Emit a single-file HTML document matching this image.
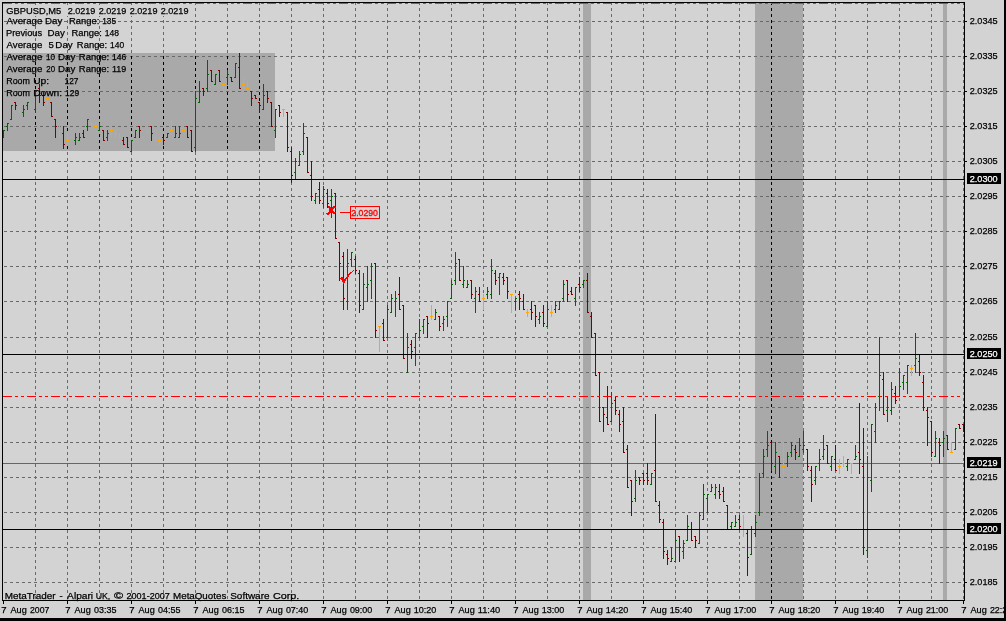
<!DOCTYPE html>
<html><head><meta charset="utf-8"><title>GBPUSD,M5</title>
<style>html,body{margin:0;padding:0;background:#d3d3d3;overflow:hidden}svg{display:block;will-change:transform}text{font-family:"Liberation Sans",sans-serif;font-size:9.5px;fill:#000;stroke:#000;stroke-width:0.25px;white-space:pre}.w{fill:#fff;stroke:#fff}.r{fill:#f00;stroke:#f00;stroke-width:0.3px}</style></head><body>
<svg width="1006" height="621" viewBox="0 0 1006 621" shape-rendering="crispEdges">
<rect x="0" y="0" width="1006" height="621" fill="#d3d3d3"/>
<rect x="0" y="618" width="1006" height="3" fill="#000"/>
<rect x="1004" y="0" width="2" height="621" fill="#000"/>
<rect x="3" y="53" width="272" height="98" fill="#a9a9a9"/>
<rect x="583" y="3" width="8" height="597" fill="#a9a9a9"/>
<rect x="755" y="3" width="48" height="597" fill="#a9a9a9"/>
<rect x="943" y="3" width="4" height="597" fill="#a9a9a9"/>
<path d="M4 21.5H964M4 56.5H964M4 91.5H964M4 126.5H964M4 161.5H964M4 196.5H964M4 231.5H964M4 266.5H964M4 301.5H964M4 337.5H964M4 372.5H964M4 407.5H964M4 442.5H964M4 477.5H964M4 512.5H964M4 547.5H964M4 582.5H964" stroke="#696969" stroke-width="1" stroke-dasharray="3 3" fill="none"/>
<path d="M35.5 2V600M67.5 2V600M99.5 2V600M131.5 2V600M163.5 2V600M195.5 2V600M227.5 2V600M259.5 2V600M291.5 2V600M323.5 2V600M355.5 2V600M387.5 2V600M419.5 2V600M451.5 2V600M483.5 2V600M515.5 2V600M547.5 2V600M579.5 2V600M611.5 2V600M643.5 2V600M675.5 2V600M707.5 2V600M739.5 2V600M771.5 2V600M803.5 2V600M835.5 2V600M867.5 2V600M899.5 2V600M931.5 2V600M963.5 2V600" stroke="#696969" stroke-width="1" stroke-dasharray="3 3" fill="none"/>
<path d="M35.5 53V151" stroke="#000" stroke-width="1" stroke-dasharray="3 3" stroke-dashoffset="3" fill="none"/>
<path d="M67.5 53V151" stroke="#000" stroke-width="1" stroke-dasharray="3 3" stroke-dashoffset="3" fill="none"/>
<path d="M99.5 53V151" stroke="#000" stroke-width="1" stroke-dasharray="3 3" stroke-dashoffset="3" fill="none"/>
<path d="M131.5 53V151" stroke="#000" stroke-width="1" stroke-dasharray="3 3" stroke-dashoffset="3" fill="none"/>
<path d="M163.5 53V151" stroke="#000" stroke-width="1" stroke-dasharray="3 3" stroke-dashoffset="3" fill="none"/>
<path d="M195.5 53V151" stroke="#000" stroke-width="1" stroke-dasharray="3 3" stroke-dashoffset="3" fill="none"/>
<path d="M227.5 53V151" stroke="#000" stroke-width="1" stroke-dasharray="3 3" stroke-dashoffset="3" fill="none"/>
<path d="M259.5 53V151" stroke="#000" stroke-width="1" stroke-dasharray="3 3" stroke-dashoffset="3" fill="none"/>
<path d="M771.5 3V600" stroke="#000" stroke-width="1" stroke-dasharray="3 3" stroke-dashoffset="1" fill="none"/>
<rect x="3" y="463" width="961" height="1" fill="#666"/>
<path d="M3 130h1v8h-1zM2 137h1v1h-1zM4 130h1v1h-1zM7 123h1v8h-1zM6 126h1v1h-1zM8 123h1v1h-1zM11 105h1v15h-1zM10 119h1v1h-1zM12 105h1v1h-1zM23 105h1v12h-1zM22 112h1v1h-1zM24 109h1v1h-1zM27 102h1v8h-1zM26 105h1v1h-1zM28 102h1v1h-1zM35 91h1v22h-1zM34 109h1v1h-1zM36 91h1v1h-1zM75 133h1v12h-1zM74 140h1v1h-1zM76 137h1v1h-1zM79 133h1v8h-1zM78 140h1v1h-1zM80 137h1v1h-1zM87 119h1v12h-1zM86 126h1v1h-1zM88 119h1v1h-1zM99 123h1v8h-1zM98 130h1v1h-1zM100 126h1v1h-1zM107 130h1v11h-1zM106 137h1v1h-1zM108 133h1v1h-1zM131 140h1v12h-1zM130 151h1v1h-1zM132 140h1v1h-1zM135 130h1v8h-1zM134 137h1v1h-1zM136 130h1v1h-1zM167 133h1v5h-1zM166 137h1v1h-1zM168 133h1v1h-1zM175 126h1v12h-1zM174 137h1v1h-1zM176 133h1v1h-1zM179 126h1v12h-1zM178 137h1v1h-1zM180 133h1v1h-1zM195 91h1v61h-1zM194 147h1v1h-1zM196 98h1v1h-1zM199 81h1v22h-1zM198 102h1v1h-1zM200 91h1v1h-1zM207 60h1v32h-1zM206 88h1v1h-1zM208 74h1v1h-1zM215 74h1v11h-1zM214 84h1v1h-1zM216 74h1v1h-1zM227 70h1v15h-1zM226 77h1v1h-1zM228 74h1v1h-1zM235 63h1v15h-1zM234 77h1v1h-1zM236 63h1v1h-1zM263 84h1v26h-1zM262 109h1v1h-1zM264 95h1v1h-1zM275 109h1v29h-1zM274 130h1v1h-1zM276 109h1v1h-1zM295 158h1v22h-1zM294 172h1v1h-1zM296 161h1v1h-1zM299 151h1v15h-1zM298 165h1v1h-1zM300 154h1v1h-1zM303 123h1v32h-1zM302 151h1v1h-1zM304 133h1v1h-1zM315 193h1v11h-1zM314 200h1v1h-1zM316 193h1v1h-1zM323 186h1v22h-1zM322 203h1v1h-1zM324 189h1v1h-1zM331 189h1v29h-1zM330 200h1v1h-1zM332 196h1v1h-1zM347 249h1v61h-1zM346 301h1v1h-1zM348 263h1v1h-1zM351 252h1v15h-1zM350 259h1v1h-1zM352 252h1v1h-1zM363 273h1v37h-1zM362 309h1v1h-1zM364 284h1v1h-1zM367 266h1v36h-1zM366 287h1v1h-1zM368 284h1v1h-1zM371 263h1v36h-1zM370 280h1v1h-1zM372 266h1v1h-1zM387 305h1v33h-1zM386 337h1v1h-1zM388 309h1v1h-1zM391 294h1v19h-1zM390 312h1v1h-1zM392 298h1v1h-1zM395 291h1v26h-1zM394 301h1v1h-1zM396 298h1v1h-1zM407 333h1v40h-1zM406 372h1v1h-1zM408 347h1v1h-1zM415 333h1v33h-1zM414 347h1v1h-1zM416 333h1v1h-1zM419 319h1v19h-1zM418 337h1v1h-1zM420 330h1v1h-1zM423 319h1v15h-1zM422 326h1v1h-1zM424 319h1v1h-1zM435 309h1v11h-1zM434 319h1v1h-1zM436 312h1v1h-1zM443 316h1v15h-1zM442 323h1v1h-1zM444 319h1v1h-1zM447 301h1v26h-1zM446 316h1v1h-1zM448 301h1v1h-1zM451 280h1v19h-1zM450 298h1v1h-1zM452 284h1v1h-1zM455 252h1v33h-1zM454 280h1v1h-1zM456 263h1v1h-1zM463 266h1v22h-1zM462 284h1v1h-1zM464 280h1v1h-1zM467 280h1v8h-1zM466 287h1v1h-1zM468 284h1v1h-1zM475 287h1v26h-1zM474 298h1v1h-1zM476 291h1v1h-1zM487 287h1v12h-1zM486 294h1v1h-1zM488 291h1v1h-1zM491 259h1v40h-1zM490 294h1v1h-1zM492 270h1v1h-1zM499 273h1v22h-1zM498 277h1v1h-1zM500 273h1v1h-1zM515 298h1v12h-1zM514 301h1v1h-1zM516 298h1v1h-1zM539 312h1v12h-1zM538 319h1v1h-1zM540 316h1v1h-1zM547 301h1v26h-1zM546 326h1v1h-1zM548 309h1v1h-1zM555 301h1v12h-1zM554 309h1v1h-1zM556 305h1v1h-1zM559 301h1v9h-1zM558 309h1v1h-1zM560 301h1v1h-1zM563 280h1v22h-1zM562 298h1v1h-1zM564 284h1v1h-1zM575 287h1v19h-1zM574 298h1v1h-1zM576 287h1v1h-1zM583 280h1v8h-1zM582 284h1v1h-1zM584 280h1v1h-1zM611 392h1v30h-1zM610 421h1v1h-1zM612 403h1v1h-1zM635 470h1v32h-1zM634 498h1v1h-1zM636 480h1v1h-1zM651 473h1v12h-1zM650 484h1v1h-1zM652 473h1v1h-1zM671 547h1v15h-1zM670 561h1v1h-1zM672 558h1v1h-1zM675 530h1v32h-1zM674 561h1v1h-1zM676 540h1v1h-1zM683 540h1v19h-1zM682 551h1v1h-1zM684 543h1v1h-1zM687 515h1v26h-1zM686 540h1v1h-1zM688 526h1v1h-1zM699 512h1v32h-1zM698 543h1v1h-1zM700 515h1v1h-1zM703 484h1v36h-1zM702 519h1v1h-1zM704 494h1v1h-1zM707 494h1v19h-1zM706 498h1v1h-1zM708 494h1v1h-1zM711 484h1v8h-1zM710 491h1v1h-1zM712 487h1v1h-1zM715 484h1v15h-1zM714 494h1v1h-1zM716 487h1v1h-1zM731 522h1v8h-1zM730 526h1v1h-1zM732 522h1v1h-1zM735 515h1v12h-1zM734 526h1v1h-1zM736 522h1v1h-1zM751 526h1v29h-1zM750 554h1v1h-1zM752 529h1v1h-1zM755 515h1v22h-1zM754 533h1v1h-1zM756 522h1v1h-1zM759 473h1v43h-1zM758 512h1v1h-1zM760 477h1v1h-1zM763 449h1v29h-1zM762 473h1v1h-1zM764 456h1v1h-1zM767 431h1v26h-1zM766 449h1v1h-1zM768 445h1v1h-1zM775 442h1v32h-1zM774 466h1v1h-1zM776 452h1v1h-1zM787 452h1v15h-1zM786 463h1v1h-1zM788 456h1v1h-1zM791 442h1v15h-1zM790 452h1v1h-1zM792 445h1v1h-1zM799 438h1v19h-1zM798 456h1v1h-1zM800 445h1v1h-1zM803 431h1v22h-1zM802 449h1v1h-1zM804 445h1v1h-1zM815 466h1v19h-1zM814 480h1v1h-1zM816 466h1v1h-1zM819 449h1v22h-1zM818 463h1v1h-1zM820 459h1v1h-1zM823 435h1v25h-1zM822 456h1v1h-1zM824 449h1v1h-1zM831 456h1v15h-1zM830 466h1v1h-1zM832 456h1v1h-1zM847 459h1v12h-1zM846 466h1v1h-1zM848 459h1v1h-1zM855 445h1v15h-1zM854 459h1v1h-1zM856 456h1v1h-1zM867 456h1v102h-1zM866 550h1v1h-1zM868 477h1v1h-1zM871 424h1v68h-1zM870 480h1v1h-1zM872 424h1v1h-1zM875 403h1v40h-1zM874 431h1v1h-1zM876 407h1v1h-1zM879 337h1v74h-1zM878 396h1v1h-1zM880 375h1v1h-1zM887 396h1v26h-1zM886 410h1v1h-1zM888 407h1v1h-1zM891 382h1v33h-1zM890 410h1v1h-1zM892 389h1v1h-1zM899 368h1v29h-1zM898 396h1v1h-1zM900 386h1v1h-1zM903 375h1v15h-1zM902 382h1v1h-1zM904 375h1v1h-1zM907 365h1v29h-1zM906 382h1v1h-1zM908 365h1v1h-1zM915 333h1v40h-1zM914 365h1v1h-1zM916 358h1v1h-1zM935 431h1v26h-1zM934 456h1v1h-1zM936 438h1v1h-1zM943 431h1v26h-1zM942 442h1v1h-1zM944 438h1v1h-1zM955 428h1v22h-1zM954 449h1v1h-1zM956 428h1v1h-1z" fill="#006400"/>
<path d="M15 102h1v8h-1zM14 102h1v1h-1zM16 105h1v1h-1zM39 84h1v19h-1zM38 88h1v1h-1zM40 95h1v1h-1zM43 92h1v14h-1zM42 95h1v1h-1zM44 102h1v1h-1zM51 102h1v15h-1zM50 102h1v1h-1zM52 116h1v1h-1zM55 119h1v19h-1zM54 119h1v1h-1zM56 126h1v1h-1zM63 126h1v23h-1zM62 133h1v1h-1zM64 144h1v1h-1zM83 130h1v8h-1zM82 133h1v1h-1zM84 137h1v1h-1zM103 130h1v11h-1zM102 130h1v1h-1zM104 140h1v1h-1zM123 137h1v8h-1zM122 140h1v1h-1zM124 144h1v1h-1zM127 137h1v11h-1zM126 137h1v1h-1zM128 147h1v1h-1zM139 126h1v12h-1zM138 126h1v1h-1zM140 130h1v1h-1zM151 126h1v15h-1zM150 126h1v1h-1zM152 133h1v1h-1zM163 137h1v8h-1zM162 137h1v1h-1zM164 140h1v1h-1zM187 126h1v12h-1zM186 126h1v1h-1zM188 137h1v1h-1zM191 130h1v22h-1zM190 130h1v1h-1zM192 151h1v1h-1zM203 88h1v8h-1zM202 88h1v1h-1zM204 91h1v1h-1zM211 70h1v12h-1zM210 70h1v1h-1zM212 81h1v1h-1zM219 70h1v12h-1zM218 70h1v1h-1zM220 81h1v1h-1zM231 77h1v5h-1zM230 77h1v1h-1zM232 81h1v1h-1zM239 53h1v36h-1zM238 67h1v1h-1zM240 88h1v1h-1zM251 91h1v15h-1zM250 91h1v1h-1zM252 98h1v1h-1zM255 95h1v4h-1zM254 95h1v1h-1zM256 98h1v1h-1zM259 102h1v11h-1zM258 102h1v1h-1zM260 105h1v1h-1zM267 91h1v12h-1zM266 91h1v1h-1zM268 98h1v1h-1zM271 102h1v25h-1zM270 102h1v1h-1zM272 126h1v1h-1zM279 105h1v12h-1zM278 105h1v1h-1zM280 112h1v1h-1zM287 112h1v40h-1zM286 112h1v1h-1zM288 147h1v1h-1zM291 147h1v36h-1zM290 151h1v1h-1zM292 175h1v1h-1zM307 137h1v36h-1zM306 137h1v1h-1zM308 172h1v1h-1zM311 161h1v40h-1zM310 175h1v1h-1zM312 196h1v1h-1zM319 182h1v22h-1zM318 189h1v1h-1zM320 200h1v1h-1zM327 189h1v19h-1zM326 193h1v1h-1zM328 203h1v1h-1zM335 193h1v46h-1zM334 193h1v1h-1zM336 238h1v1h-1zM339 242h1v39h-1zM338 242h1v1h-1zM340 263h1v1h-1zM343 252h1v58h-1zM342 256h1v1h-1zM344 298h1v1h-1zM355 256h1v18h-1zM354 259h1v1h-1zM356 270h1v1h-1zM359 270h1v43h-1zM358 273h1v1h-1zM360 305h1v1h-1zM375 263h1v75h-1zM374 263h1v1h-1zM376 330h1v1h-1zM383 319h1v22h-1zM382 323h1v1h-1zM384 340h1v1h-1zM399 277h1v33h-1zM398 294h1v1h-1zM400 309h1v1h-1zM403 305h1v54h-1zM402 305h1v1h-1zM404 358h1v1h-1zM411 340h1v19h-1zM410 344h1v1h-1zM412 351h1v1h-1zM427 316h1v22h-1zM426 316h1v1h-1zM428 323h1v1h-1zM439 316h1v15h-1zM438 316h1v1h-1zM440 326h1v1h-1zM459 259h1v22h-1zM458 259h1v1h-1zM460 280h1v1h-1zM471 280h1v19h-1zM470 280h1v1h-1zM472 294h1v1h-1zM479 287h1v15h-1zM478 294h1v1h-1zM480 301h1v1h-1zM495 270h1v15h-1zM494 273h1v1h-1zM496 280h1v1h-1zM503 273h1v12h-1zM502 277h1v1h-1zM504 280h1v1h-1zM507 277h1v22h-1zM506 277h1v1h-1zM508 291h1v1h-1zM519 291h1v19h-1zM518 294h1v1h-1zM520 298h1v1h-1zM523 294h1v16h-1zM522 301h1v1h-1zM524 309h1v1h-1zM531 301h1v19h-1zM530 309h1v1h-1zM532 312h1v1h-1zM535 305h1v22h-1zM534 305h1v1h-1zM536 316h1v1h-1zM543 305h1v22h-1zM542 312h1v1h-1zM544 323h1v1h-1zM567 280h1v22h-1zM566 280h1v1h-1zM568 294h1v1h-1zM571 287h1v8h-1zM570 291h1v1h-1zM572 294h1v1h-1zM579 277h1v15h-1zM578 284h1v1h-1zM580 287h1v1h-1zM587 273h1v40h-1zM586 280h1v1h-1zM588 312h1v1h-1zM591 312h1v26h-1zM590 316h1v1h-1zM592 337h1v1h-1zM595 333h1v43h-1zM594 333h1v1h-1zM596 375h1v1h-1zM599 372h1v50h-1zM598 372h1v1h-1zM600 421h1v1h-1zM603 407h1v25h-1zM602 407h1v1h-1zM604 414h1v1h-1zM607 386h1v39h-1zM606 417h1v1h-1zM608 424h1v1h-1zM615 396h1v19h-1zM614 400h1v1h-1zM616 410h1v1h-1zM619 410h1v22h-1zM618 414h1v1h-1zM620 424h1v1h-1zM623 407h1v46h-1zM622 421h1v1h-1zM624 452h1v1h-1zM627 445h1v43h-1zM626 449h1v1h-1zM628 487h1v1h-1zM631 480h1v36h-1zM630 480h1v1h-1zM632 501h1v1h-1zM639 477h1v8h-1zM638 477h1v1h-1zM640 480h1v1h-1zM643 473h1v12h-1zM642 473h1v1h-1zM644 480h1v1h-1zM647 463h1v22h-1zM646 473h1v1h-1zM648 480h1v1h-1zM655 414h1v88h-1zM654 470h1v1h-1zM656 501h1v1h-1zM659 501h1v22h-1zM658 505h1v1h-1zM660 519h1v1h-1zM663 519h1v40h-1zM662 522h1v1h-1zM664 551h1v1h-1zM667 550h1v15h-1zM666 554h1v1h-1zM668 558h1v1h-1zM679 536h1v26h-1zM678 536h1v1h-1zM680 547h1v1h-1zM691 522h1v19h-1zM690 529h1v1h-1zM692 540h1v1h-1zM695 536h1v12h-1zM694 536h1v1h-1zM696 540h1v1h-1zM719 484h1v15h-1zM718 491h1v1h-1zM720 494h1v1h-1zM723 487h1v15h-1zM722 491h1v1h-1zM724 501h1v1h-1zM727 505h1v25h-1zM726 505h1v1h-1zM728 529h1v1h-1zM739 515h1v15h-1zM738 519h1v1h-1zM740 526h1v1h-1zM747 529h1v47h-1zM746 533h1v1h-1zM748 557h1v1h-1zM771 442h1v29h-1zM770 442h1v1h-1zM772 463h1v1h-1zM779 456h1v22h-1zM778 456h1v1h-1zM780 463h1v1h-1zM795 445h1v15h-1zM794 449h1v1h-1zM796 452h1v1h-1zM807 449h1v22h-1zM806 449h1v1h-1zM808 466h1v1h-1zM811 466h1v36h-1zM810 470h1v1h-1zM812 484h1v1h-1zM827 445h1v19h-1zM826 445h1v1h-1zM828 463h1v1h-1zM835 445h1v26h-1zM834 459h1v1h-1zM836 470h1v1h-1zM859 403h1v71h-1zM858 452h1v1h-1zM860 459h1v1h-1zM863 428h1v127h-1zM862 466h1v1h-1zM864 547h1v1h-1zM883 372h1v43h-1zM882 379h1v1h-1zM884 414h1v1h-1zM895 386h1v18h-1zM894 393h1v1h-1zM896 400h1v1h-1zM919 355h1v21h-1zM918 361h1v1h-1zM920 372h1v1h-1zM923 375h1v36h-1zM922 382h1v1h-1zM924 407h1v1h-1zM927 407h1v39h-1zM926 410h1v1h-1zM928 417h1v1h-1zM931 421h1v36h-1zM930 421h1v1h-1zM932 452h1v1h-1zM939 438h1v26h-1zM938 442h1v1h-1zM940 445h1v1h-1zM947 435h1v15h-1zM946 435h1v1h-1zM948 449h1v1h-1zM959 424h1v5h-1zM958 424h1v1h-1zM960 428h1v1h-1zM963 424h1v8h-1zM962 424h1v1h-1z" fill="#800000"/>
<path d="M19 105h1v8h-1zM18 109h1v1h-1zM20 109h1v1h-1zM31 105h1v5h-1zM30 105h1v1h-1zM32 105h1v1h-1zM47 98h1v8h-1zM46 98h1v1h-1zM48 98h1v1h-1zM59 126h1v12h-1zM58 137h1v1h-1zM60 137h1v1h-1zM67 133h1v12h-1zM66 140h1v1h-1zM68 140h1v1h-1zM71 137h1v1h-1zM70 137h1v1h-1zM72 137h1v1h-1zM91 123h1v4h-1zM90 123h1v1h-1zM92 123h1v1h-1zM95 123h1v4h-1zM94 126h1v1h-1zM96 126h1v1h-1zM111 126h1v12h-1zM110 130h1v1h-1zM112 130h1v1h-1zM115 130h1v8h-1zM114 133h1v1h-1zM116 133h1v1h-1zM119 133h1v5h-1zM118 137h1v1h-1zM120 137h1v1h-1zM143 137h1v1h-1zM142 137h1v1h-1zM144 137h1v1h-1zM147 130h1v4h-1zM146 133h1v1h-1zM148 133h1v1h-1zM155 137h1v4h-1zM154 137h1v1h-1zM156 137h1v1h-1zM159 137h1v8h-1zM158 140h1v1h-1zM160 140h1v1h-1zM171 119h1v12h-1zM170 130h1v1h-1zM172 130h1v1h-1zM183 130h1v1h-1zM182 130h1v1h-1zM184 130h1v1h-1zM223 84h1v8h-1zM222 84h1v1h-1zM224 84h1v1h-1zM243 77h1v12h-1zM242 84h1v1h-1zM244 84h1v1h-1zM247 81h1v8h-1zM246 88h1v1h-1zM248 88h1v1h-1zM283 109h1v8h-1zM282 109h1v1h-1zM284 109h1v1h-1zM379 326h1v26h-1zM378 326h1v1h-1zM380 326h1v1h-1zM431 305h1v15h-1zM430 316h1v1h-1zM432 316h1v1h-1zM483 294h1v16h-1zM482 298h1v1h-1zM484 298h1v1h-1zM511 294h1v19h-1zM510 294h1v1h-1zM512 294h1v1h-1zM527 309h1v8h-1zM526 312h1v1h-1zM528 312h1v1h-1zM551 305h1v12h-1zM550 312h1v1h-1zM552 312h1v1h-1zM743 515h1v22h-1zM742 529h1v1h-1zM744 529h1v1h-1zM783 442h1v32h-1zM782 466h1v1h-1zM784 466h1v1h-1zM839 459h1v15h-1zM838 466h1v1h-1zM840 466h1v1h-1zM843 456h1v11h-1zM842 463h1v1h-1zM844 463h1v1h-1zM851 463h1v11h-1zM850 463h1v1h-1zM852 463h1v1h-1zM911 365h1v11h-1zM910 368h1v1h-1zM912 368h1v1h-1zM951 442h1v11h-1zM950 452h1v1h-1zM952 452h1v1h-1z" fill="#ffa500"/>
<rect x="3" y="179" width="961" height="1" fill="#000"/>
<rect x="3" y="354" width="961" height="1" fill="#000"/>
<rect x="3" y="529" width="961" height="1" fill="#000"/>
<path d="M3 396.5H963" stroke="#f00" stroke-width="1" stroke-dasharray="9 3 3 3 3 3" fill="none"/>
<path d="M2.5 2V601M2 2.5H965M964.5 2V601M2 600.5H965" stroke="#000" stroke-width="1" fill="none"/>
<path d="M3 3.5H964" stroke="#f0f" stroke-width="1" stroke-dasharray="9 3 3 3 3 3" fill="none"/>
<rect x="6" y="5" width="184" height="11" fill="#d3d3d3"/>
<rect x="965" y="21" width="2" height="1" fill="#000"/>
<rect x="965" y="56" width="2" height="1" fill="#000"/>
<rect x="965" y="91" width="2" height="1" fill="#000"/>
<rect x="965" y="126" width="2" height="1" fill="#000"/>
<rect x="965" y="161" width="2" height="1" fill="#000"/>
<rect x="965" y="196" width="2" height="1" fill="#000"/>
<rect x="965" y="231" width="2" height="1" fill="#000"/>
<rect x="965" y="266" width="2" height="1" fill="#000"/>
<rect x="965" y="301" width="2" height="1" fill="#000"/>
<rect x="965" y="337" width="2" height="1" fill="#000"/>
<rect x="965" y="372" width="2" height="1" fill="#000"/>
<rect x="965" y="407" width="2" height="1" fill="#000"/>
<rect x="965" y="442" width="2" height="1" fill="#000"/>
<rect x="965" y="477" width="2" height="1" fill="#000"/>
<rect x="965" y="512" width="2" height="1" fill="#000"/>
<rect x="965" y="547" width="2" height="1" fill="#000"/>
<rect x="965" y="582" width="2" height="1" fill="#000"/>
<rect x="967" y="173" width="34" height="11" fill="#000"/>
<rect x="967" y="348" width="34" height="11" fill="#000"/>
<rect x="967" y="457" width="34" height="11" fill="#000"/>
<rect x="967" y="523" width="34" height="11" fill="#000"/>
<rect x="3" y="601" width="1" height="3" fill="#000"/>
<rect x="67" y="601" width="1" height="3" fill="#000"/>
<rect x="131" y="601" width="1" height="3" fill="#000"/>
<rect x="195" y="601" width="1" height="3" fill="#000"/>
<rect x="259" y="601" width="1" height="3" fill="#000"/>
<rect x="323" y="601" width="1" height="3" fill="#000"/>
<rect x="387" y="601" width="1" height="3" fill="#000"/>
<rect x="451" y="601" width="1" height="3" fill="#000"/>
<rect x="515" y="601" width="1" height="3" fill="#000"/>
<rect x="579" y="601" width="1" height="3" fill="#000"/>
<rect x="643" y="601" width="1" height="3" fill="#000"/>
<rect x="707" y="601" width="1" height="3" fill="#000"/>
<rect x="771" y="601" width="1" height="3" fill="#000"/>
<rect x="835" y="601" width="1" height="3" fill="#000"/>
<rect x="899" y="601" width="1" height="3" fill="#000"/>
<rect x="963" y="601" width="1" height="3" fill="#000"/>
<text x="969.77" y="23.7" textLength="27.76" lengthAdjust="spacingAndGlyphs">2.0345</text>
<text x="969.77" y="58.7" textLength="27.76" lengthAdjust="spacingAndGlyphs">2.0335</text>
<text x="969.77" y="93.7" textLength="27.76" lengthAdjust="spacingAndGlyphs">2.0325</text>
<text x="969.77" y="128.7" textLength="27.76" lengthAdjust="spacingAndGlyphs">2.0315</text>
<text x="969.77" y="163.7" textLength="27.76" lengthAdjust="spacingAndGlyphs">2.0305</text>
<text x="969.77" y="198.7" textLength="27.76" lengthAdjust="spacingAndGlyphs">2.0295</text>
<text x="969.77" y="233.7" textLength="27.76" lengthAdjust="spacingAndGlyphs">2.0285</text>
<text x="969.77" y="268.7" textLength="27.76" lengthAdjust="spacingAndGlyphs">2.0275</text>
<text x="969.77" y="303.7" textLength="27.76" lengthAdjust="spacingAndGlyphs">2.0265</text>
<text x="969.77" y="339.7" textLength="27.76" lengthAdjust="spacingAndGlyphs">2.0255</text>
<text x="969.77" y="374.7" textLength="27.76" lengthAdjust="spacingAndGlyphs">2.0245</text>
<text x="969.77" y="409.7" textLength="27.76" lengthAdjust="spacingAndGlyphs">2.0235</text>
<text x="969.77" y="444.7" textLength="27.76" lengthAdjust="spacingAndGlyphs">2.0225</text>
<text x="969.77" y="479.7" textLength="27.76" lengthAdjust="spacingAndGlyphs">2.0215</text>
<text x="969.77" y="514.7" textLength="27.76" lengthAdjust="spacingAndGlyphs">2.0205</text>
<text x="969.77" y="549.7" textLength="27.76" lengthAdjust="spacingAndGlyphs">2.0195</text>
<text x="969.77" y="584.7" textLength="27.76" lengthAdjust="spacingAndGlyphs">2.0185</text>
<text x="969.77" y="181.7" class="w" textLength="27.76" lengthAdjust="spacingAndGlyphs">2.0300</text>
<text x="969.77" y="356.7" class="w" textLength="27.76" lengthAdjust="spacingAndGlyphs">2.0250</text>
<text x="969.77" y="465.7" class="w" textLength="27.76" lengthAdjust="spacingAndGlyphs">2.0219</text>
<text x="969.77" y="531.7" class="w" textLength="27.76" lengthAdjust="spacingAndGlyphs">2.0200</text>
<text x="1.17" y="612.7">7</text>
<text x="10.48" y="612.7" textLength="16.26" lengthAdjust="spacingAndGlyphs">Aug</text>
<text x="29.98" y="612.7" textLength="19.34" lengthAdjust="spacingAndGlyphs">2007</text>
<text x="65.17" y="612.7">7</text>
<text x="74.47" y="612.7" textLength="16.26" lengthAdjust="spacingAndGlyphs">Aug</text>
<text x="94.03" y="612.7" textLength="22.38" lengthAdjust="spacingAndGlyphs">03:35</text>
<text x="129.18" y="612.7">7</text>
<text x="138.48" y="612.7" textLength="16.26" lengthAdjust="spacingAndGlyphs">Aug</text>
<text x="158.02" y="612.7" textLength="22.38" lengthAdjust="spacingAndGlyphs">04:55</text>
<text x="193.18" y="612.7">7</text>
<text x="202.48" y="612.7" textLength="16.26" lengthAdjust="spacingAndGlyphs">Aug</text>
<text x="222.02" y="612.7" textLength="22.38" lengthAdjust="spacingAndGlyphs">06:15</text>
<text x="257.18" y="612.7">7</text>
<text x="266.48" y="612.7" textLength="16.26" lengthAdjust="spacingAndGlyphs">Aug</text>
<text x="285.90" y="612.7" textLength="22.38" lengthAdjust="spacingAndGlyphs">07:40</text>
<text x="321.18" y="612.7">7</text>
<text x="330.48" y="612.7" textLength="16.26" lengthAdjust="spacingAndGlyphs">Aug</text>
<text x="349.90" y="612.7" textLength="22.38" lengthAdjust="spacingAndGlyphs">09:00</text>
<text x="385.18" y="612.7">7</text>
<text x="394.48" y="612.7" textLength="16.26" lengthAdjust="spacingAndGlyphs">Aug</text>
<text x="413.65" y="612.7" textLength="22.63" lengthAdjust="spacingAndGlyphs">10:20</text>
<text x="449.18" y="612.7">7</text>
<text x="458.48" y="612.7" textLength="16.26" lengthAdjust="spacingAndGlyphs">Aug</text>
<text x="477.65" y="612.7" textLength="22.68" lengthAdjust="spacingAndGlyphs">11:40</text>
<text x="513.17" y="612.7">7</text>
<text x="522.47" y="612.7" textLength="16.26" lengthAdjust="spacingAndGlyphs">Aug</text>
<text x="541.65" y="612.7" textLength="22.63" lengthAdjust="spacingAndGlyphs">13:00</text>
<text x="577.17" y="612.7">7</text>
<text x="586.47" y="612.7" textLength="16.26" lengthAdjust="spacingAndGlyphs">Aug</text>
<text x="605.65" y="612.7" textLength="22.63" lengthAdjust="spacingAndGlyphs">14:20</text>
<text x="641.17" y="612.7">7</text>
<text x="650.47" y="612.7" textLength="16.26" lengthAdjust="spacingAndGlyphs">Aug</text>
<text x="669.65" y="612.7" textLength="22.63" lengthAdjust="spacingAndGlyphs">15:40</text>
<text x="705.17" y="612.7">7</text>
<text x="714.47" y="612.7" textLength="16.26" lengthAdjust="spacingAndGlyphs">Aug</text>
<text x="733.65" y="612.7" textLength="22.63" lengthAdjust="spacingAndGlyphs">17:00</text>
<text x="769.17" y="612.7">7</text>
<text x="778.47" y="612.7" textLength="16.26" lengthAdjust="spacingAndGlyphs">Aug</text>
<text x="797.65" y="612.7" textLength="22.63" lengthAdjust="spacingAndGlyphs">18:20</text>
<text x="833.17" y="612.7">7</text>
<text x="842.47" y="612.7" textLength="16.26" lengthAdjust="spacingAndGlyphs">Aug</text>
<text x="861.65" y="612.7" textLength="22.63" lengthAdjust="spacingAndGlyphs">19:40</text>
<text x="897.17" y="612.7">7</text>
<text x="906.47" y="612.7" textLength="16.26" lengthAdjust="spacingAndGlyphs">Aug</text>
<text x="925.90" y="612.7" textLength="22.38" lengthAdjust="spacingAndGlyphs">21:00</text>
<text x="961.17" y="612.7">7</text>
<text x="970.47" y="612.7" textLength="16.26" lengthAdjust="spacingAndGlyphs">Aug</text>
<text x="989.90" y="612.7" textLength="22.38" lengthAdjust="spacingAndGlyphs">22:20</text>
<text x="6.35" y="13.7" textLength="54.92" lengthAdjust="spacingAndGlyphs">GBPUSD,M5</text>
<text x="67.67" y="13.7" textLength="27.76" lengthAdjust="spacingAndGlyphs">2.0219</text>
<text x="98.67" y="13.7" textLength="27.76" lengthAdjust="spacingAndGlyphs">2.0219</text>
<text x="129.68" y="13.7" textLength="27.76" lengthAdjust="spacingAndGlyphs">2.0219</text>
<text x="160.68" y="13.7" textLength="27.76" lengthAdjust="spacingAndGlyphs">2.0219</text>
<text x="6.60" y="23.7" textLength="35.67" lengthAdjust="spacingAndGlyphs">Average</text>
<text x="45.08" y="23.7" textLength="17.31" lengthAdjust="spacingAndGlyphs">Day</text>
<text x="69.05" y="23.7" textLength="30.39" lengthAdjust="spacingAndGlyphs">Range:</text>
<text x="102.18" y="23.7" textLength="13.91" lengthAdjust="spacingAndGlyphs">135</text>
<text x="5.98" y="35.7" textLength="36.17" lengthAdjust="spacingAndGlyphs">Previous</text>
<text x="47.58" y="35.7" textLength="17.31" lengthAdjust="spacingAndGlyphs">Day</text>
<text x="71.55" y="35.7" textLength="30.39" lengthAdjust="spacingAndGlyphs">Range:</text>
<text x="104.85" y="35.7" textLength="14.26" lengthAdjust="spacingAndGlyphs">148</text>
<text x="6.60" y="47.7" textLength="35.67" lengthAdjust="spacingAndGlyphs">Average</text>
<text x="48.38" y="47.7">5</text>
<text x="55.38" y="47.7" textLength="17.31" lengthAdjust="spacingAndGlyphs">Day</text>
<text x="76.85" y="47.7" textLength="30.39" lengthAdjust="spacingAndGlyphs">Range:</text>
<text x="110.00" y="47.7" textLength="14.11" lengthAdjust="spacingAndGlyphs">140</text>
<text x="6.60" y="59.7" textLength="35.67" lengthAdjust="spacingAndGlyphs">Average</text>
<text x="46.00" y="59.7" textLength="9.08" lengthAdjust="spacingAndGlyphs">10</text>
<text x="57.97" y="59.7" textLength="17.31" lengthAdjust="spacingAndGlyphs">Day</text>
<text x="78.85" y="59.7" textLength="30.39" lengthAdjust="spacingAndGlyphs">Range:</text>
<text x="111.95" y="59.7" textLength="14.26" lengthAdjust="spacingAndGlyphs">146</text>
<text x="6.60" y="71.7" textLength="35.67" lengthAdjust="spacingAndGlyphs">Average</text>
<text x="46.25" y="71.7" textLength="8.83" lengthAdjust="spacingAndGlyphs">20</text>
<text x="57.97" y="71.7" textLength="17.31" lengthAdjust="spacingAndGlyphs">Day</text>
<text x="78.85" y="71.7" textLength="30.39" lengthAdjust="spacingAndGlyphs">Range:</text>
<text x="111.95" y="71.7" textLength="14.31" lengthAdjust="spacingAndGlyphs">119</text>
<text x="6.23" y="83.7" textLength="23.79" lengthAdjust="spacingAndGlyphs">Room</text>
<text x="33.15" y="83.7" textLength="16.05" lengthAdjust="spacingAndGlyphs">Up:</text>
<text x="64.60" y="83.7" textLength="13.91" lengthAdjust="spacingAndGlyphs">127</text>
<text x="6.23" y="95.7" textLength="23.79" lengthAdjust="spacingAndGlyphs">Room</text>
<text x="33.15" y="95.7" textLength="28.94" lengthAdjust="spacingAndGlyphs">Down:</text>
<text x="65.05" y="95.7" textLength="14.21" lengthAdjust="spacingAndGlyphs">129</text>
<text x="4.78" y="598.7" textLength="50.90" lengthAdjust="spacingAndGlyphs">MetaTrader</text>
<text x="59.58" y="598.7">-</text>
<text x="67.10" y="598.7" textLength="26.05" lengthAdjust="spacingAndGlyphs">Alpari</text>
<text x="95.70" y="598.7" textLength="14.59" lengthAdjust="spacingAndGlyphs">UK,</text>
<text x="114.12" y="598.7" textLength="9.15" lengthAdjust="spacingAndGlyphs">©</text>
<text x="126.53" y="598.7" textLength="43.24" lengthAdjust="spacingAndGlyphs">2001-2007</text>
<text x="173.07" y="598.7" textLength="53.20" lengthAdjust="spacingAndGlyphs">MetaQuotes</text>
<text x="230.22" y="598.7" textLength="39.30" lengthAdjust="spacingAndGlyphs">Software</text>
<text x="272.95" y="598.7" textLength="26.38" lengthAdjust="spacingAndGlyphs">Corp.</text>
<text x="351.33" y="215.7" class="r" textLength="26.61" lengthAdjust="spacingAndGlyphs">2.0290</text>
<rect x="1004" y="0" width="2" height="621" fill="#000"/>
<path d="M328 206h2v1h-2zM333 206h2v1h-2zM328 207h3v1h-3zM332 207h4v1h-4zM329 208h5v1h-5zM329 209h4v1h-4zM329 210h4v1h-4zM329 211h5v1h-5zM328 212h3v1h-3zM332 212h4v1h-4zM326 213h4v1h-4zM333 213h2v1h-2zM327 214h2v1h-2zM353 270h1v1h-1zM352 271h1v1h-1zM350 272h2v1h-2zM349 273h2v1h-2zM348 274h2v1h-2zM347 275h2v1h-2zM347 276h2v1h-2zM341 277h2v1h-2zM346 277h2v1h-2zM340 278h4v1h-4zM345 278h2v1h-2zM341 279h5v1h-5zM342 280h4v1h-4zM342 281h3v1h-3zM343 282h2v1h-2zM343 283h1v1h-1z" fill="#f00"/>
<rect x="340" y="212" width="10" height="1" fill="#f00"/>
<path d="M350.5 206.5H379.5V218.5H350.5Z" stroke="#f00" stroke-width="1" fill="none"/>
</svg></body></html>
